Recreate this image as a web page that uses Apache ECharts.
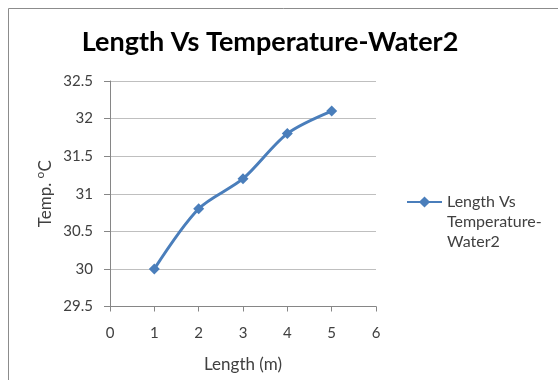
<!DOCTYPE html>
<html><head><meta charset="utf-8">
<script src="https://cdn.jsdelivr.net/npm/echarts@6/dist/echarts.min.js"></script>
<style>html,body{margin:0;padding:0;background:#fff}#c{width:558px;height:380px}</style>
</head><body><div id="c"></div>
<script>
var titleText = 'Length Vs Temperature-Water2';
var seriesName = 'Length Vs Temperature-Water2';
var lengths = [1, 2, 3, 4, 5];
var temps = [30.0, 30.8, 31.2, 31.8, 32.1];
var xName = 'Length (m)';
var chart = echarts.init(document.getElementById('c'));
var font = 'Lato, "Open Sans", sans-serif';
chart.setOption({
  animation: false,
  backgroundColor: '#fff',
  graphic: [{type: 'rect', shape: {x: 8.5, y: 8.5, width: 600, height: 400}, style: {fill: 'none', stroke: '#8c8c8c', lineWidth: 1}}],
  title: {text: titleText, left: 265, textAlign: 'center', top: 24,
    textStyle: {fontFamily: font, fontWeight: 'bold', fontSize: 27, color: '#000'}},
  grid: {left: 110, top: 81, right: 182, bottom: 73.5, containLabel: false},
  legend: {orient: 'vertical', left: 406, top: 152, padding: 0, itemWidth: 35, itemHeight: 14, itemGap: 4,
    textStyle: {fontFamily: font, fontSize: 16, color: '#404040', lineHeight: 20},
    formatter: function(){ return '\n\nLength Vs\nTemperature-\nWater2'; },
    data: [{name: seriesName}]},
  xAxis: {type: 'value', min: 0, max: 6, interval: 1,
    name: xName, nameLocation: 'middle', nameGap: 50,
    nameTextStyle: {fontFamily: font, fontSize: 17, color: '#404040'},
    axisLine: {lineStyle: {color: '#868686'}},
    axisTick: {show: true, length: 5, lineStyle: {color: '#868686'}},
    axisLabel: {fontFamily: font, fontSize: 15, color: '#404040', margin: 19},
    splitLine: {show: false}},
  yAxis: {type: 'value', min: 29.5, max: 32.5, interval: 0.5,
    name: '{a|Temp. }{s|o}{a|C}', nameLocation: 'middle', nameGap: 56, nameRotate: 90,
    nameTextStyle: {rich: {a: {fontFamily: font, fontSize: 17, color: '#404040', verticalAlign: 'bottom'}, s: {fontFamily: font, fontSize: 12, color: '#404040', verticalAlign: 'bottom', padding: [0, 0, 8, 0]}}},
    axisLine: {show: true, lineStyle: {color: '#868686'}},
    axisTick: {show: true, length: 6, lineStyle: {color: '#868686'}},
    axisLabel: {fontFamily: font, fontSize: 15, color: '#404040', margin: 17,
      formatter: function(v){ return String(Math.round(v*10)/10); }},
    splitLine: {show: true, lineStyle: {color: '#bfbfbf', width: 1}}},
  series: [{name: seriesName, type: 'line', smooth: 0.3,
    data: lengths.map(function(x, i){ return [x, temps[i]]; }),
    symbol: 'diamond', symbolSize: 11,
    lineStyle: {color: '#4a7ebb', width: 3},
    itemStyle: {color: '#4a7ebb'}}]
});
</script></body></html>
